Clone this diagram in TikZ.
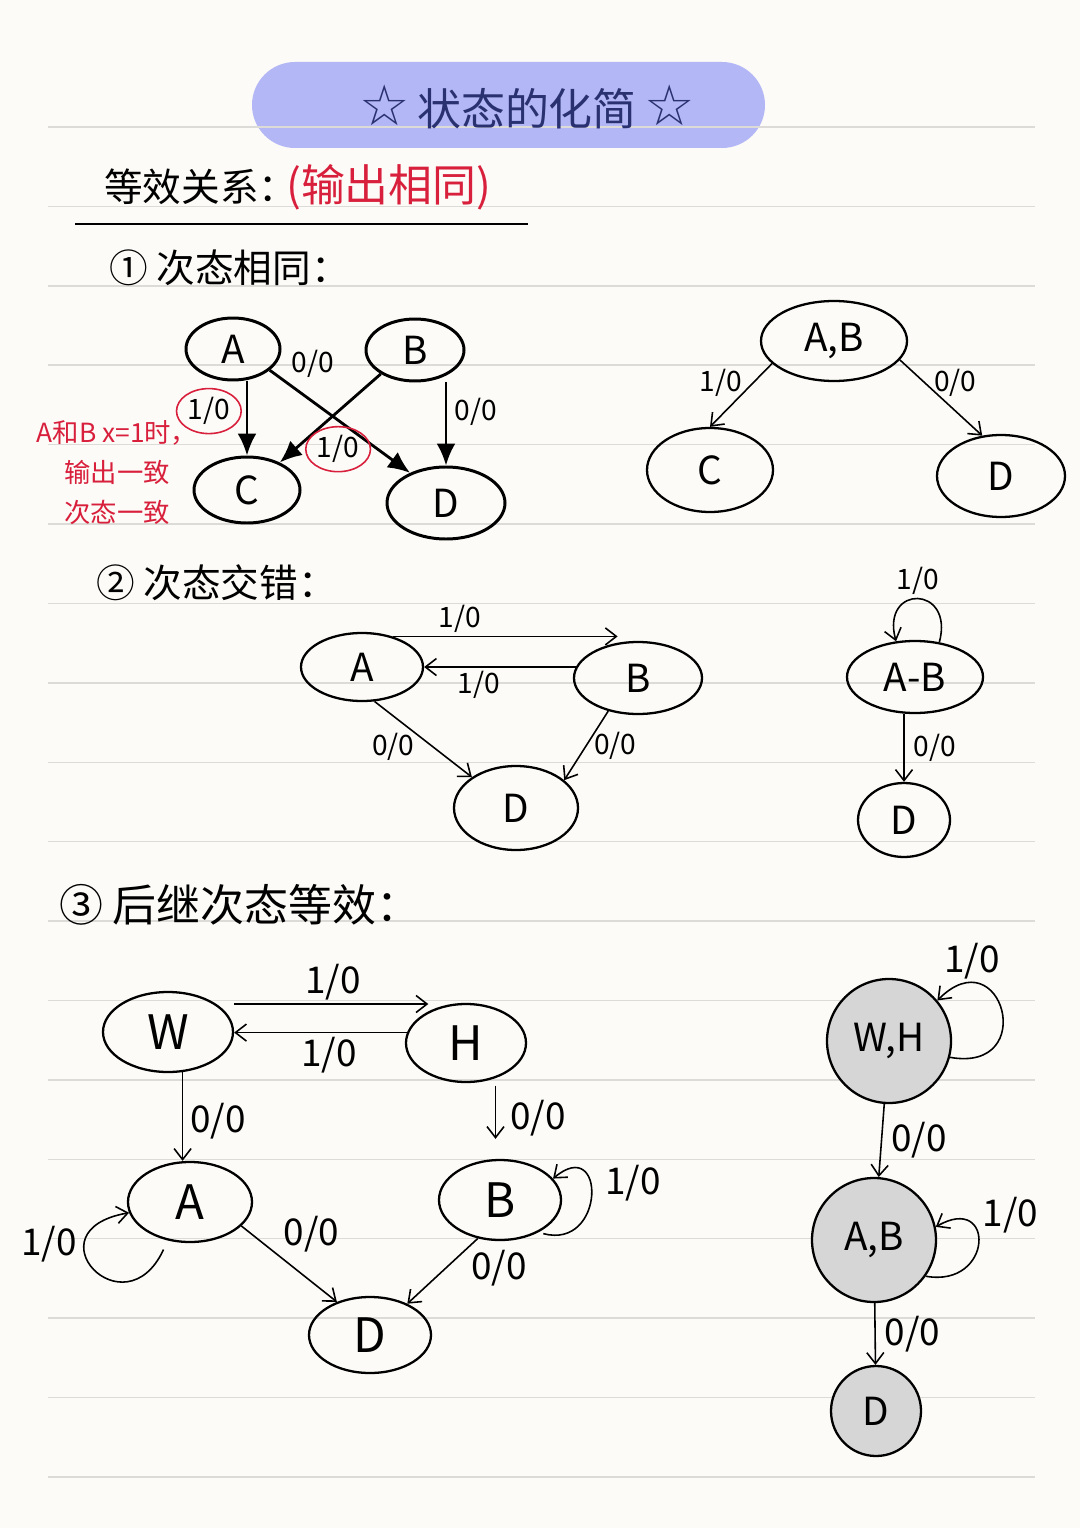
\documentclass[tikz,border=0pt]{standalone}
\usepackage{fontspec}
\setmainfont{Noto Sans CJK SC}
\newfontfamily\starfont{DejaVu Sans}
\usepackage{xcolor}
\usepackage{tikz}
\usetikzlibrary{shapes,arrows,positioning,calc,arrows.meta}

\definecolor{paper}{HTML}{FCFBF7}
\definecolor{rule}{HTML}{DCDBD8}
\definecolor{pill}{HTML}{B4B7F6}
\definecolor{ink}{HTML}{2A3170}
\definecolor{notered}{HTML}{D81F3C}
\definecolor{shade}{HTML}{D6D6D6}

\begin{document}
\begin{tikzpicture}[
    x=0.2mm, y=-0.2mm,
    state/.style={ellipse, draw, line width=1.3pt, inner sep=0pt, font=\fontsize{22}{24}\selectfont},
    thickstate/.style={state, line width=1.7pt},
    bigstate/.style={state, font=\fontsize{27}{30}\selectfont},
    merged/.style={circle, draw, fill=shade, line width=1.3pt, inner sep=0pt, font=\fontsize{22}{24}\selectfont},
    heavy/.style={line width=1.6pt, -{Latex[length=4.4mm,width=3.8mm]}},
    light/.style={line width=0.9pt, -{Straight Barb[length=2.2mm,width=3.4mm]}},
    lab/.style={font=\fontsize{16}{18}\selectfont, inner sep=2pt},
    biglab/.style={font=\fontsize{21}{24}\selectfont, inner sep=2pt},
    ring/.style={ellipse, draw=notered, line width=0.9pt, inner sep=1pt, minimum width=10.5mm, minimum height=9mm},
    heading/.style={anchor=west, font=\fontsize{22}{26}\selectfont}
]
    % paper
    \fill[paper] (0,0) rectangle (1080,1528);
    \useasboundingbox (0,0) rectangle (1080,1528);
    \fill[pill, rounded corners=8.6mm] (252,62) rectangle (765,148);
    \foreach \k in {0,...,17}
        \draw[rule, line width=0.8pt] (48,{127+79.4*\k}) -- (1035,{127+79.4*\k});

    \node[text=ink, font=\fontsize{25}{28}\selectfont] (title) at (527,107) {{\starfont\fontsize{32}{32}\selectfont ☆}\,状态的化简\,{\starfont\fontsize{32}{32}\selectfont ☆}};
    \node[heading] (eq) at (98,187) {等效关系：};
    \node[anchor=west, text=notered, font=\fontsize{25}{28}\selectfont] (same) at (280,187) {(输出相同)};
    \draw[line width=1.2pt] (75,224) -- (528,224);

    \node[heading] (s1) at (103,268) {① 次态相同：};
    \node[heading] (s2) at (90,583) {② 次态交错：};
    \node[heading, font=\fontsize{25}{28}\selectfont] (s3) at (53,905) {③ 后继次态等效：};

    % 1
    \node[thickstate, minimum width=18.8mm, minimum height=12.4mm] (a1) at (233,349) {A};
    \node[thickstate, minimum width=19.6mm, minimum height=12.4mm] (b1) at (415,350) {B};
    \node[thickstate, minimum width=21.2mm, minimum height=13.2mm] (c1) at (247,490) {C};
    \node[thickstate, minimum width=23.6mm, minimum height=14.4mm] (d1) at (446,503) {D};
    \draw[heavy] (a1.south -| c1) -- node[lab, ring, left=1mm, pos=0.4] {1/0} (c1);
    \draw[heavy] (a1.-30) -- node[lab, pos=0.12, above right=0pt] {0/0} (d1.140);
    \draw[heavy] (b1.215) -- node[lab, ring, pos=0.85, right=2mm] {1/0} (c1.40);
    \draw[heavy] (b1.south -| d1) -- node[lab, right=2pt, pos=0.35] {0/0} (d1);
    \node[text=notered, align=center, font=\fontsize{15}{22.8}\selectfont] (note) at (117,473) {A和B x=1时，\\输出一致\\次态一致};

    \node[state, minimum width=29.2mm, minimum height=16mm] (ab2) at (834,341) {A,B};
    \node[state, minimum width=25.2mm, minimum height=16.8mm] (c2) at (710,470) {C};
    \node[state, minimum width=25.6mm, minimum height=16.4mm] (d2) at (1001,476) {D};
    \draw[light] (ab2.200) -- node[lab, pos=0.3, left=4pt] {1/0} (c2.north);
    \draw[light] (ab2.-16) -- node[lab, pos=0.3, right=3pt] {0/0} (d2.115);

    % 2
    \node[state, minimum width=24.4mm, minimum height=13.6mm] (a3) at (362,667) {A};
    \node[state, minimum width=25.6mm, minimum height=14.4mm] (b3) at (638,678) {B};
    \node[state, minimum width=24.8mm, minimum height=16.8mm] (d3) at (516,808) {D};
    \draw[light] (a3.45) -- node[lab, above, pos=0.3] {1/0} (a3.45 -| b3.120);
    \draw[light] (b3.170) -- node[lab, below, pos=0.64] {1/0} (b3.170 -| a3.east);
    \draw[light] (a3.290) -- node[lab, left=8pt, pos=0.6] {0/0} (d3.145);
    \draw[light] (b3.228) -- node[lab, right=2pt, pos=0.5] {0/0} (d3.30);

    \node[state, minimum width=27.2mm, minimum height=14.4mm] (ab4) at (915,677) {A-B};
    \node[state, minimum width=18.4mm, minimum height=14.8mm] (d4) at (904,820) {D};
    \draw[light] (ab4.55) to[out=75, in=105, looseness=3.5] node[lab, above] {1/0} (ab4.118);
    \draw[light] (ab4.south -| d4) -- node[lab, right=3pt] {0/0} (d4);

    % 3
    \node[bigstate, minimum width=26mm, minimum height=16mm] (w5) at (168,1032) {W};
    \node[bigstate, minimum width=24mm, minimum height=15.6mm] (h5) at (466,1043) {H};
    \node[bigstate, minimum width=24.8mm, minimum height=16mm] (a5) at (190,1202) {A};
    \node[bigstate, minimum width=24.4mm, minimum height=16mm] (b5) at (500,1200) {B};
    \node[bigstate, minimum width=24.4mm, minimum height=15.2mm] (d5) at (370,1335) {D};
    \draw[light, shorten <=3.5mm] (w5.30) -- node[biglab, above, pos=0.55] {1/0} (w5.30 -| h5.140);
    \draw[light] (h5.170) -- node[biglab, below, pos=0.45] {1/0} (h5.170 -| w5.east);
    \draw[light] (w5.290) -- node[biglab, right=2pt, pos=0.55] {0/0} (w5.290 |- a5.north);
    \draw[light, shorten <=1.5mm, shorten >=4mm] (h5.310) -- node[biglab, right=6pt, pos=0.5] {0/0} (h5.310 |- b5.north);
    \draw[light, shorten <=2mm] (a5.240) to[out=245, in=190, looseness=5.5] node[biglab, left=2pt, pos=0.7] {1/0} (a5.190);
    \draw[light, shorten <=1mm] (b5.-40) to[out=-15, in=40, looseness=3.2] node[biglab, right=6pt, pos=0.6] {1/0} (b5.22);
    \draw[light] (a5.-25) -- node[biglab, above right=0pt, pos=0.4] {0/0} (d5.135);
    \draw[light] (b5.240) -- node[biglab, right=12pt, pos=0.45] {0/0} (d5.40);

    \node[merged, minimum size=24.8mm] (wh6) at (889,1041) {W,H};
    \node[merged, minimum size=24.8mm] (ab6) at (874,1240) {A,B};
    \node[merged, minimum size=18mm] (d6) at (876,1411) {D};
    \draw[light] (wh6) -- node[biglab, right=3pt] {0/0} (ab6);
    \draw[light] (ab6) -- node[biglab, right=3pt] {0/0} (d6);
    \draw[light] (wh6.-15) to[out=-10, in=45, looseness=4] node[biglab, above=0pt, pos=0.8] {1/0} (wh6.40);
    \draw[light] (ab6.-35) to[out=-10, in=30, looseness=3.5] node[biglab, above right=0pt, pos=0.55] {1/0} (ab6.12);
\end{tikzpicture}
\end{document}
